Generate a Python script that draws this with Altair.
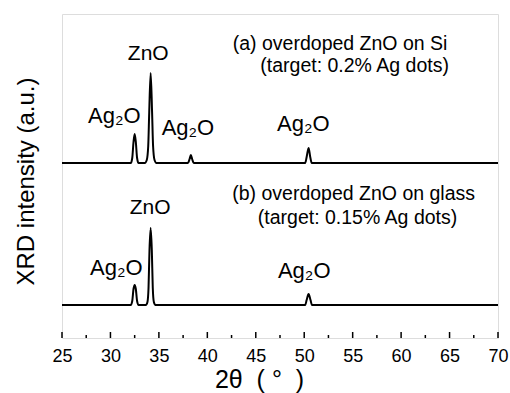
import altair as alt
import pandas as pd

# ---- data ----
# (a) overdoped ZnO on Si  (2theta, intensity a.u.)
top_x = [25, 32.1, 32.25, 32.38, 32.5, 32.62, 32.75, 32.9,
         33.55, 33.75, 33.9, 34.0, 34.15, 34.3, 34.4, 34.55, 34.75,
         38.0, 38.17, 38.3, 38.43, 38.6,
         50.1, 50.25, 50.45, 50.62, 50.78, 70]
top_y = [175, 175, 180, 196, 204, 196, 180, 175,
         175, 178, 192, 225, 265, 225, 192, 178, 175,
         175, 179, 183, 179, 175,
         175, 181, 190, 181, 175, 175]

# (b) overdoped ZnO on glass
bot_x = [25, 32.1, 32.25, 32.38, 32.5, 32.62, 32.75, 32.9,
         33.65, 33.82, 33.93, 34.03, 34.15, 34.27, 34.37, 34.48, 34.65,
         50.1, 50.25, 50.45, 50.65, 50.8, 70]
bot_y = [33, 33, 37, 49, 53, 49, 37, 33,
         33, 36, 50, 88, 110, 88, 50, 36, 33,
         33, 38, 44, 38, 33, 33]

# annotations (x in 2theta, y in a.u., text, size)
ann_x = [33.9, 30.4, 38.0, 49.9, 53.7, 55.2, 34.1, 30.6, 50.0, 55.1, 55.5]
ann_y = [284, 222, 210, 214, 294, 272, 130, 70, 67, 144, 120]
ann_t = ["ZnO", "Ag₂O", "Ag₂O", "Ag₂O",
         "(a) overdoped ZnO on Si", "(target: 0.2% Ag dots)",
         "ZnO", "Ag₂O", "Ag₂O",
         "(b) overdoped ZnO on glass", "(target: 0.15% Ag dots)"]
ann_s = [21, 22, 22, 22, 19.5, 19.5, 21, 22, 22, 19.5, 19.5]

major_ticks = [25, 30, 35, 40, 45, 50, 55, 60, 65, 70]
minor_ticks = [27.5, 32.5, 37.5, 42.5, 47.5, 52.5, 57.5, 62.5, 67.5]

FONT = "Liberation Sans"
NB = "\u00a0"
x_title = "2θ" + NB * 2 + "(" + NB + "°" + NB * 2 + ")"

traces = pd.concat([
    pd.DataFrame({"x": top_x, "y": top_y, "s": "a"}),
    pd.DataFrame({"x": bot_x, "y": bot_y, "s": "b"}),
])
ann = pd.DataFrame({"x": ann_x, "y": ann_y, "t": ann_t, "fs": ann_s})

xs = alt.Scale(domain=[25, 70], nice=False, zero=False)
ys = alt.Scale(domain=[0, 324], nice=False, zero=False)

lines = alt.Chart(traces).mark_line(color="black", strokeWidth=2, interpolate="monotone").encode(
    x=alt.X("x:Q", scale=xs, axis=alt.Axis(
        values=major_ticks, title=x_title, domain=False, ticks=False, grid=False,
        labelFontSize=18, labelFont=FONT, labelColor="black", labelPadding=9, labelFlush=False,
        titleFontSize=25, titleFont=FONT, titleFontWeight="normal", titleColor="black",
        titleX=197, titleY=49, titleBaseline="alphabetic", titleAlign="center")),
    y=alt.Y("y:Q", scale=ys, axis=alt.Axis(
        labels=False, ticks=False, domain=False, grid=False,
        title="XRD intensity (a.u.)", titleFontSize=24, titleFont=FONT,
        titleFontWeight="normal", titleColor="black",
        titleX=-29, titleY=167, titleBaseline="alphabetic", titleAlign="center", titleAngle=270)),
    detail="s:N",
)

text = alt.Chart(ann).mark_text(color="black", font=FONT, baseline="middle", align="center").encode(
    x=alt.X("x:Q", scale=xs),
    y=alt.Y("y:Q", scale=ys),
    text="t:N",
    size=alt.Size("fs:Q", scale=None, legend=None),
)

major = alt.Chart(pd.DataFrame({"x": major_ticks})).mark_rule(color="black", strokeWidth=1.5).encode(
    x=alt.X("x:Q", scale=xs), y=alt.value(324), y2=alt.value(318))
minor = alt.Chart(pd.DataFrame({"x": minor_ticks})).mark_rule(color="black", strokeWidth=1.5).encode(
    x=alt.X("x:Q", scale=xs), y=alt.value(324), y2=alt.value(321))

chart = alt.layer(lines, text, major, minor).properties(
    width=436, height=324,
    autosize=alt.AutoSizeParams(type="none"),
    padding={"left": 62, "top": 14, "right": 12, "bottom": 55},
).configure_view(stroke="black", strokeWidth=2).configure(background="white")

chart.save("out.html", embed_options={"renderer": "svg", "actions": False})
